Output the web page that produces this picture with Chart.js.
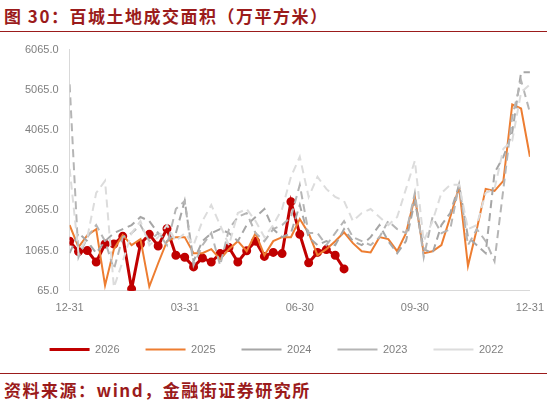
<!DOCTYPE html><html><head><meta charset="utf-8">
<script src="https://cdn.jsdelivr.net/npm/chart.js@4"></script>
<style>
body{margin:0;width:547px;height:407px;background:#fff;font-family:"Noto Sans CJK SC",sans-serif;overflow:hidden}
#t{position:absolute;left:4px;top:3px;font-size:17px;letter-spacing:1.5px;font-weight:bold;color:#9B1B1B}
#l1{position:absolute;left:0;top:31px;width:547px;height:1px;background:#9B1B1B}
#l2{position:absolute;left:0;top:373px;width:547px;height:1px;background:#9B1B1B}
#s{position:absolute;left:4px;top:377px;font-size:17px;letter-spacing:1.5px;font-weight:bold;color:#9B1B1B}
#c{position:absolute;left:0;top:40px;width:547px;height:325px}
</style></head><body>
<div id="t">图 30：百城土地成交面积（万平方米）</div><div id="l1"></div>
<div id="c"><canvas id="cv"></canvas></div>
<div id="l2"></div><div id="s">资料来源：wind，金融街证券研究所</div>
<script>
const tickLabels={0:"12-31",13:"03-31",26:"06-30",39:"09-30",52:"12-31"};
const weeks=Array.from({length:53},(_,i)=>i);
const s2026=[1300,1040,1065,780,1230,1230,1420,110,1230,1470,1180,1610,950,900,660,880,780,990,1140,780,1060,1300,920,1020,990,2280,1470,760,1020,1090,950,610];
const s2025=[1700,1150,1450,1600,200,1100,1450,1200,1350,170,750,1300,1400,1400,1000,1000,1100,850,1100,1300,1050,1500,950,1300,1400,1400,1850,1500,950,1100,1300,1520,1250,1050,1020,1400,1350,1050,1500,2400,1000,1050,1200,1900,2650,680,1600,2600,2550,2800,4700,4600,3400];
const s2024=[1000,1500,1300,1000,1300,1500,1600,1700,1900,1800,1500,1300,1500,2300,800,1300,1500,1600,1500,1300,1700,1900,2100,1600,1400,1500,2200,1400,1200,1300,1200,1600,1300,1200,1400,1700,1300,1000,1300,2300,1100,1000,1700,2000,2700,1400,1200,1000,3000,3400,4000,5500,5500];
const s2023=[5200,900,1400,1700,1300,600,1400,1500,1700,1300,1500,1200,2100,2300,700,1200,1500,700,1600,1900,2000,1500,1300,1600,1700,1900,2700,1500,1500,1200,1500,1800,1400,1300,1200,1400,1800,1600,1500,2500,900,1900,1500,1600,2700,1200,1600,1300,800,2600,4400,5300,4500];
const s2022=[3100,1000,1400,2500,2800,150,800,1500,1800,1200,1400,1700,1300,1500,1200,1800,2200,1700,1200,2000,2100,1800,1400,1700,2100,2900,3400,2400,2900,2600,2400,2300,1800,2000,2100,1900,1700,1900,2600,3300,1300,1800,2500,2700,2700,1600,1700,2500,2600,3600,3800,5000,5200];
const ds=(label,data,color,w,dash,pt)=>({label,data,borderColor:color,backgroundColor:color,borderWidth:w,borderDash:dash,pointRadius:pt,pointHoverRadius:pt,tension:0});
new Chart(document.getElementById('cv'),{type:'line',
data:{labels:weeks,datasets:[
ds('2026',s2026,'#C00000',3,[],3),
ds('2025',s2025,'#ED7D31',2,[],0),
ds('2024',s2024,'#A6A6A6',2,[8,5],0),
ds('2023',s2023,'#B5B5B5',2,[8,5],0),
ds('2022',s2022,'#DCDCDC',2,[8,5],0)].reverse()},
options:{animation:false,responsive:true,maintainAspectRatio:false,
layout:{padding:{left:22,right:16,top:8}},
plugins:{legend:{position:'bottom',reverse:true,labels:{color:'#7F7F7F',font:{size:11,family:'Liberation Sans'},boxWidth:40,boxHeight:0,padding:26}}},
scales:{x:{type:'linear',min:0,max:52,grid:{display:false},border:{color:'#D9D9D9'},
ticks:{stepSize:13,color:'#7F7F7F',font:{size:11,family:'Liberation Sans'},callback:v=>tickLabels[v]??''}},
y:{min:65,max:6065,grid:{display:false},border:{color:'#D9D9D9'},
ticks:{stepSize:1000,color:'#7F7F7F',font:{size:11,family:'Liberation Sans'},callback:v=>v.toFixed(1)}}}}});
</script></body></html>
